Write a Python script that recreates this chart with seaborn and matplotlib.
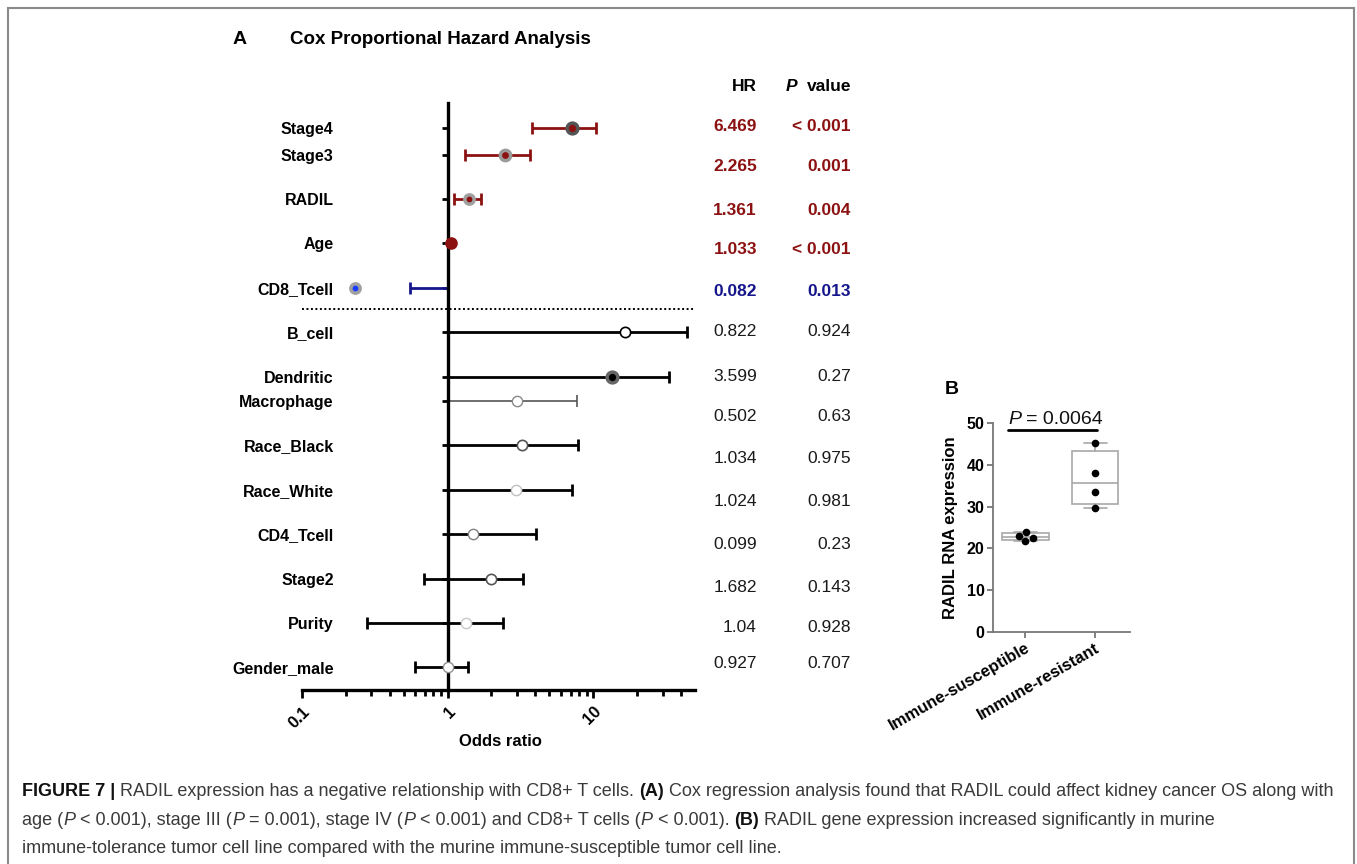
import numpy as np
import pandas as pd
import matplotlib
matplotlib.use("Agg")
import matplotlib.pyplot as plt
import matplotlib.transforms as mtransforms
from matplotlib.patches import Rectangle
from matplotlib.ticker import FixedLocator, NullFormatter
from matplotlib import font_manager
import seaborn as sns

# ---------------- data ----------------
variables = ["Stage4", "Stage3", "RADIL", "Age", "CD8_Tcell", "B_cell", "Dendritic",
             "Macrophage", "Race_Black", "Race_White", "CD4_Tcell", "Stage2", "Purity",
             "Gender_male"]
point_est = [7.1, 2.49, 1.40, 1.05, 0.23, 16.4, 13.5, 2.98, 3.24, 2.96, 1.50, 1.99, 1.33, 1.0]
ci_low = [3.82, 1.32, 1.11, 1.04, 0.553, 1.0, 1.0, 1.0, 1.0, 1.0, 1.0, 0.683, 0.279, 0.60]
ci_high = [10.5, 3.68, 1.70, 1.06, 1.0, 44.0, 33.1, 7.72, 7.88, 7.13, 4.05, 3.31, 2.41, 1.38]
hr_text = ["6.469", "2.265", "1.361", "1.033", "0.082", "0.822", "3.599", "0.502", "1.034",
           "1.024", "0.099", "1.682", "1.04", "0.927"]
p_text = ["< 0.001", "0.001", "0.004", "< 0.001", "0.013", "0.924", "0.27", "0.63", "0.975",
          "0.981", "0.23", "0.143", "0.928", "0.707"]
x_ticks = [0.1, 1, 10]
x_tick_labels = ["0.1", "1", "10"]

groups_b = ["Immune-susceptible", "Immune-resistant"]
susceptible = [23.0, 23.9, 21.8, 22.5]
resistant = [45.1, 38.0, 33.4, 29.6]
p_value_b = "0.0064"

# ---------------- layout / styles ----------------
row_pos = [0, 0.6, 1.6, 2.6, 3.6, 4.6, 5.6, 6.15, 7.15, 8.15, 9.15, 10.15, 11.15, 12.15]
text_pos = [-0.02, 0.86, 1.85, 2.73, 3.69, 4.59, 5.59, 6.49, 7.45, 8.42, 9.39, 10.36, 11.26, 12.07]
DR = "#8c1212"
NB = "#16168c"
line_color = [DR, DR, DR, DR, NB] + ["black", "black", "#555555"] + ["black"] * 6
line_width = [2.0] * 7 + [1.2] + [2.0] * 6
face = [DR, DR, DR, DR, "#1a3cff", "white", "black"] + ["white"] * 7
edge = ["#555555", "#9a9a9a", "#a0a0a0", DR, "#a0a0a0", "black", "#666666", "#888888",
        "#555555", "#c0c0c0", "#808080", "#555555", "#c8c8c8", "#909090"]
msize = [60, 55, 45, 65, 45, 55, 60, 55, 55, 55, 55, 55, 55, 55]
medge_w = [2.5, 2.5, 2.5, 1.0, 2.5, 1.2, 2.5, 1.0, 1.2, 1.0, 1.0, 1.2, 1.0, 1.0]
text_color = [DR] * 4 + [NB] + ["#1a1a1a"] * 9
text_weight = ["bold"] * 5 + ["normal"] * 9

sns.set_theme(style="ticks")
plt.rcParams["font.family"] = ["Liberation Sans", "DejaVu Sans"]
plt.rcParams["text.color"] = "black"
plt.rcParams["axes.labelcolor"] = "black"
plt.rcParams["xtick.color"] = "black"
plt.rcParams["ytick.color"] = "black"
plt.rcParams["xtick.labelcolor"] = "black"
plt.rcParams["ytick.labelcolor"] = "black"

W, H = 1357, 864
fig = plt.figure(figsize=(W / 100, H / 100), dpi=100)
fig.patch.set_facecolor("white")


def px_axes(l, t, r, b):
    return fig.add_axes([l / W, 1 - b / H, (r - l) / W, (b - t) / H])


# ================= Panel A =================
ax = px_axes(302, 103, 695, 690)
ax.set_xscale("log")
ax.set_xlim(0.1, 50)
ax.set_ylim(12.66, -0.56)

for i in range(len(variables)):
    y = row_pos[i]
    lo, hi = ci_low[i], ci_high[i]
    if hi > lo * 1.05:
        ax.plot([lo, hi], [y, y], color=line_color[i], lw=line_width[i], zorder=3,
                solid_capstyle="butt")
        ax.plot([lo, hi], [y, y], ls="none", marker="|", markersize=8,
                mew=line_width[i], color=line_color[i], zorder=3)
    sns.scatterplot(x=[point_est[i]], y=[y], ax=ax, s=msize[i], color=face[i],
                    edgecolor=edge[i], linewidth=medge_w[i], zorder=6, legend=False)

ax.plot([0.1, 50], [4.08, 4.08], color="black", lw=1.4, ls=(0, (1, 1.3)), zorder=2)

ax.spines["left"].set_position(("data", 1))
ax.spines["left"].set_linewidth(2.4)
ax.spines["bottom"].set_linewidth(2.4)
ax.spines["left"].set_color("black")
ax.spines["bottom"].set_color("black")
ax.spines["top"].set_visible(False)
ax.spines["right"].set_visible(False)
ax.spines["left"].set_zorder(4)

ax.set_yticks(row_pos)
ax.set_yticklabels(variables, fontsize=11.5, fontweight="bold", color="black")
ax.tick_params(axis="y", length=4, width=2, pad=78, color="black")

ax.xaxis.set_major_locator(FixedLocator(x_ticks))
ax.xaxis.set_minor_locator(FixedLocator([0.2, 0.3, 0.4, 0.5, 0.6, 0.7, 0.8, 0.9,
                                         2, 3, 4, 5, 6, 7, 8, 9, 20, 30, 40]))
ax.xaxis.set_minor_formatter(NullFormatter())
ax.set_xticklabels(x_tick_labels, rotation=45, ha="right", va="top",
                   rotation_mode="anchor", fontsize=12, fontweight="bold", color="black")
ax.tick_params(axis="x", which="major", length=6, width=2, pad=4, color="black")
ax.tick_params(axis="x", which="minor", length=4, width=2, color="black")
ax.set_ylabel("")
ax.set_xlabel("Odds ratio", fontsize=12, fontweight="bold", color="black")
ax.xaxis.set_label_coords(0.504, -0.075)

# table columns
tr = mtransforms.blended_transform_factory(ax.transAxes, ax.transData)
x_hr = (757 - 302) / 393
x_p = (851 - 302) / 393
y_head = (87 - 128) / 44.4
ax.text(x_hr, y_head, "HR", transform=tr, ha="right", va="center", fontsize=12.5,
        fontweight="bold", color="black")
ax.text(x_p, y_head, "value", transform=tr, ha="right", va="center", fontsize=12.5,
        fontweight="bold", color="black")
ax.text((797 - 302) / 393, y_head, "P", transform=tr, ha="right", va="center",
        fontsize=12.5, fontweight="bold", fontstyle="italic", color="black")
for i in range(len(variables)):
    ax.text(x_hr, text_pos[i], hr_text[i], transform=tr, ha="right", va="center",
            fontsize=12.5, fontweight=text_weight[i], color=text_color[i])
    ax.text(x_p, text_pos[i], p_text[i], transform=tr, ha="right", va="center",
            fontsize=12.5, fontweight=text_weight[i], color=text_color[i])

fig.text(233 / W, 1 - 39 / H, "A", fontsize=14, fontweight="bold", va="center")
fig.text(290 / W, 1 - 39 / H, "Cox Proportional Hazard Analysis", fontsize=13.5,
         fontweight="bold", va="center")

# ================= Panel B =================
axb = px_axes(993, 423, 1130, 632)
df_b = pd.DataFrame({
    "group": [groups_b[0]] * len(susceptible) + [groups_b[1]] * len(resistant),
    "value": susceptible + resistant,
})
sns.swarmplot(data=df_b, x="group", y="value", order=groups_b, color="black", size=5.5,
              ax=axb, zorder=4)


def box_stats(vals, label):
    q1, med, q3 = np.percentile(vals, [25, 50, 75], method="weibull")
    return dict(med=med, q1=q1, q3=q3, whislo=min(vals), whishi=max(vals), fliers=[],
                label=label)


gray = "#a8a8a8"
axb.bxp([box_stats(susceptible, groups_b[0]), box_stats(resistant, groups_b[1])],
        positions=[0, 1], widths=0.67, showfliers=False, patch_artist=True,
        manage_ticks=False, capwidths=0.33,
        boxprops=dict(facecolor="white", edgecolor=gray, linewidth=1.2),
        medianprops=dict(color=gray, linewidth=1.2),
        whiskerprops=dict(color=gray, linewidth=1.2),
        capprops=dict(color=gray, linewidth=1.2), zorder=2)

axb.set_xlim(-0.46, 1.5)
axb.set_ylim(0, 50)
axb.set_yticks([0, 10, 20, 30, 40, 50])
axb.set_yticklabels(["0", "10", "20", "30", "40", "50"], fontsize=11.5, fontweight="bold",
                    color="black")
axb.set_xticks([0, 1])
axb.set_xticklabels(groups_b, rotation=30, ha="right", va="top", rotation_mode="anchor",
                    fontsize=12, fontweight="bold", color="black")
axb.set_xlabel("")
axb.set_ylabel("RADIL RNA expression", fontsize=12, fontweight="bold", labelpad=6,
               color="black")
for s in ["top", "right"]:
    axb.spines[s].set_visible(False)
for s in ["left", "bottom"]:
    axb.spines[s].set_color("#777777")
    axb.spines[s].set_linewidth(1.3)
axb.tick_params(axis="both", length=4, width=1.3, color="#777777", pad=2)
axb.plot([-0.24, 1.03], [48.3, 48.3], color="black", lw=2, clip_on=False, zorder=5)

fig.text(945 / W, 1 - 390 / H, "B", fontsize=14, fontweight="bold", va="center")

# ================= mixed-style text helper =================
ident = mtransforms.IdentityTransform()
renderer = fig.canvas.get_renderer()


def draw_runs(x0, y0, runs, size, family, color):
    p1 = fig.text(0, 0, "x x", fontsize=size, family=family, transform=ident)
    p2 = fig.text(0, 0, "xx", fontsize=size, family=family, transform=ident)
    sw = p1.get_window_extent(renderer).width - p2.get_window_extent(renderer).width
    p1.remove()
    p2.remove()
    x = x0
    made = []
    for text, weight, style, col in runs:
        lead = len(text) - len(text.lstrip(" "))
        trail = len(text) - len(text.rstrip(" "))
        x += lead * sw
        s = text.strip(" ")
        t = fig.text(x, H - y0, s, transform=ident, fontsize=size, family=family,
                     fontweight=weight, fontstyle=style, color=col or color,
                     va="baseline", ha="left")
        made.append(t)
        x += t.get_window_extent(renderer).width + trail * sw
    return x, made


# P = 0.0064
draw_runs(1008, 424, [("P", "normal", "italic", None), (" = 0.0064", "normal", "normal", None)],
          14, ["Liberation Sans", "DejaVu Sans"], "#111111")

# ================= caption =================
names = {f.name for f in font_manager.fontManager.ttflist}
cap_family = ["Liberation Sans Narrow", "Liberation Sans", "DejaVu Sans"] \
    if "Liberation Sans Narrow" in names else ["Liberation Sans", "DejaVu Sans"]
CC = "#3a3a3a"
BK = "#111111"
line1 = [("FIGURE 7 |", "bold", "normal", BK),
         (" RADIL expression has a negative relationship with CD8+ T cells. ", "normal", "normal", None),
         ("(A)", "bold", "normal", BK),
         (" Cox regression analysis found that RADIL could affect kidney cancer OS along with",
          "normal", "normal", None)]
line2 = [("age (", "normal", "normal", None), ("P", "normal", "italic", None),
         (" < 0.001), stage III (", "normal", "normal", None), ("P", "normal", "italic", None),
         (" = 0.001), stage IV (", "normal", "normal", None), ("P", "normal", "italic", None),
         (" < 0.001) and CD8+ T cells (", "normal", "normal", None), ("P", "normal", "italic", None),
         (" < 0.001). ", "normal", "normal", None), ("(B)", "bold", "normal", BK),
         (" RADIL gene expression increased significantly in murine", "normal", "normal", None)]
line3 = [("immune-tolerance tumor cell line compared with the murine immune-susceptible tumor cell line.",
          "normal", "normal", None)]

trial = 10.0
xe, tmp = draw_runs(22, 796, line1, trial, cap_family, CC)
for t in tmp:
    t.remove()
cap_size = trial * (1338 - 22) / (xe - 22)
draw_runs(22, 796, line1, cap_size, cap_family, CC)
draw_runs(22, 825, line2, cap_size, cap_family, CC)
draw_runs(22, 853, line3, cap_size, cap_family, CC)

# frame
fig.patches.append(Rectangle((8 / W, -0.1), (1354 - 8) / W, (H - 8) / H + 0.1,
                             transform=fig.transFigure, fill=False, ec="#8a8a8a", lw=1.5))

fig.savefig("out.png", dpi=100)
